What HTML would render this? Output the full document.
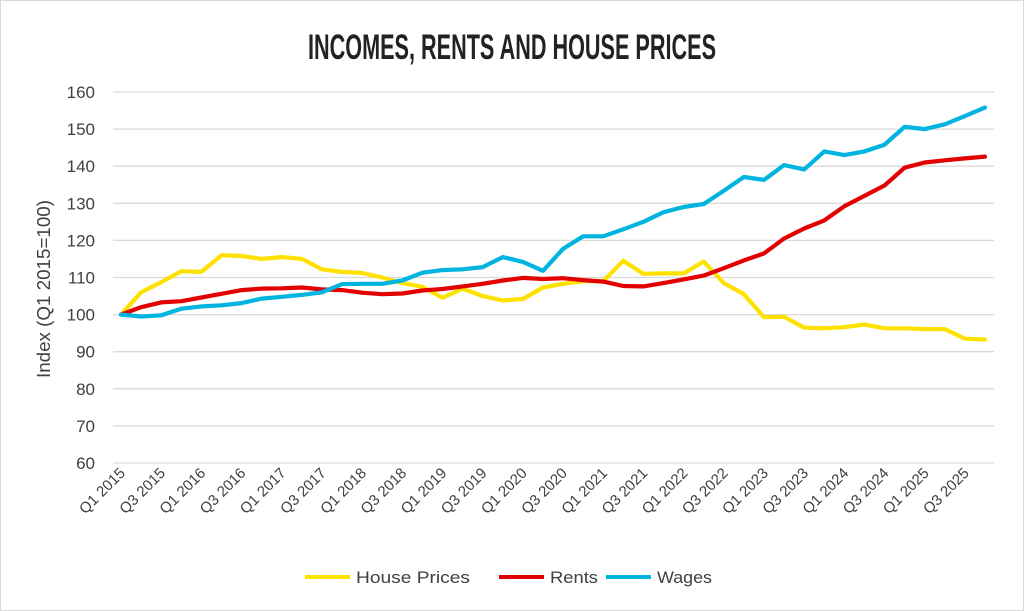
<!DOCTYPE html>
<html><head><meta charset="utf-8"><style>
html,body{margin:0;padding:0;background:#fff}
svg{display:block}
</style></head><body>
<svg id="c" width="1024" height="611" xmlns="http://www.w3.org/2000/svg" font-family="Liberation Sans, sans-serif">
<rect x="0.5" y="0.5" width="1023" height="610" fill="#fff" stroke="#d9d9d9"/>
<text x="512" y="59" text-anchor="middle" font-size="35" font-weight="bold" fill="#222" textLength="408" lengthAdjust="spacingAndGlyphs">INCOMES, RENTS AND HOUSE PRICES</text>
<g id="g"></g>
<text transform="translate(50,289) rotate(-90)" text-anchor="middle" font-size="18" fill="#404040" textLength="178" lengthAdjust="spacingAndGlyphs">Index (Q1 2015=100)</text>
<g font-size="17" fill="#404040">
<line x1="305" y1="577" x2="350" y2="577" stroke="#ffe100" stroke-width="4"/><text x="356" y="583" textLength="114" lengthAdjust="spacingAndGlyphs">House Prices</text>
<line x1="499" y1="577" x2="544" y2="577" stroke="#e30000" stroke-width="4"/><text x="550" y="583" textLength="48" lengthAdjust="spacingAndGlyphs">Rents</text>
<line x1="606" y1="577" x2="651" y2="577" stroke="#00b4e0" stroke-width="4"/><text x="657" y="583" textLength="55" lengthAdjust="spacingAndGlyphs">Wages</text>
</g>
</svg>
<script>
var hp=[100,106,108.7,111.7,111.5,116,115.8,115,115.5,115,112.2,111.5,111.2,110,108.5,107.5,104.5,107,105,103.8,104.2,107.3,108.3,109,109,114.5,111,111.1,111.1,114.3,108.5,105.5,99.3,99.4,96.5,96.3,96.6,97.3,96.3,96.3,96.1,96.1,93.5,93.3];
var re=[100,102,103.3,103.6,104.6,105.6,106.6,107,107.1,107.3,106.8,106.6,105.9,105.5,105.7,106.5,106.9,107.6,108.3,109.2,109.9,109.6,109.8,109.3,108.9,107.7,107.6,108.5,109.5,110.5,112.5,114.6,116.5,120.5,123.2,125.4,129.2,132,134.8,139.6,141,141.6,142.1,142.6];
var wa=[100,99.5,99.8,101.6,102.2,102.5,103.1,104.3,104.8,105.3,106,108.2,108.3,108.3,109.2,111.3,112,112.2,112.8,115.5,114.2,111.8,117.7,121.1,121.1,123,125,127.6,129,129.8,133.4,137.1,136.3,140.3,139.1,144,143,144,145.8,150.6,150,151.3,153.5,155.8];
var g=document.getElementById('g'),s='';
function Y(v){return 463-(v-60)*3.71}
function X(i){return 121+i*20.093}
for(var v=60;v<=160;v+=10){var y=Y(v);s+='<line x1="113" x2="994" y1="'+y+'" y2="'+y+'" stroke="#d9d9d9" stroke-width="1.3"/>';s+='<text x="95" y="'+(y+6)+'" text-anchor="end" font-size="17" fill="#404040">'+v+'</text>';}
for(var i=0;i<44;i+=2){var q=(i%4==0)?'Q1 ':'Q3 ';var yr=2015+Math.floor(i/4);var x=X(i)+5,y=474;s+='<text transform="translate('+x+','+y+') rotate(-45)" text-anchor="end" font-size="15" fill="#404040">'+q+yr+'</text>';}
function pl(d,c){var p=d.map(function(v,i){return X(i).toFixed(1)+','+Y(v).toFixed(1)}).join(' ');return '<polyline points="'+p+'" fill="none" stroke="'+c+'" stroke-width="4.2" stroke-linejoin="round" stroke-linecap="round"/>';}
s+=pl(hp,'#ffe100')+pl(re,'#e30000')+pl(wa,'#00b4e0');
g.innerHTML=s;
</script>
</body></html>
